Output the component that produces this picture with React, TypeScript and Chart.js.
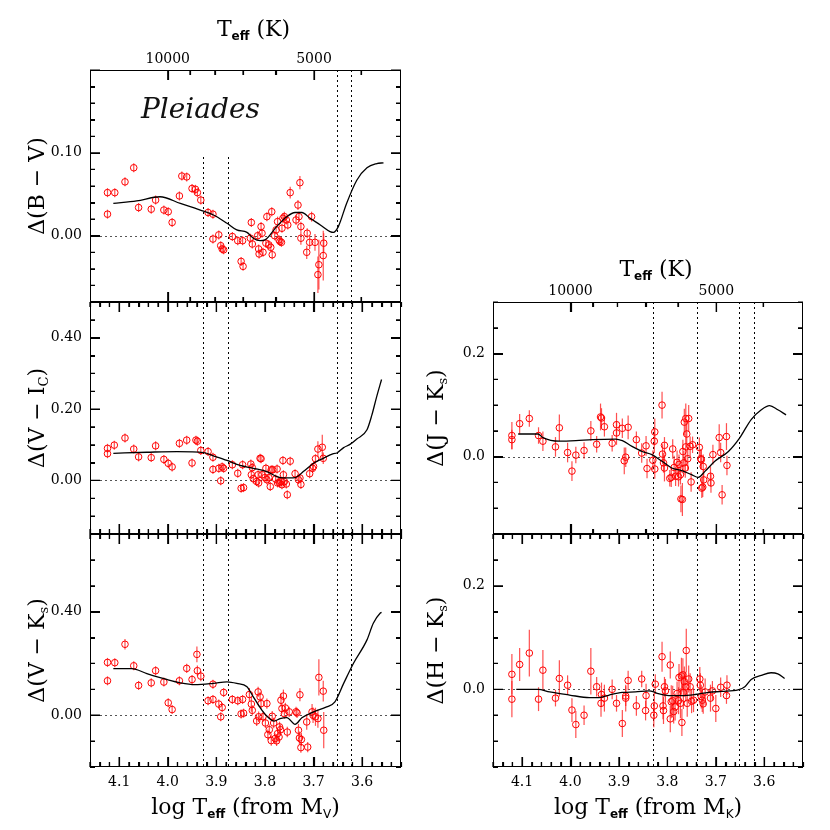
import React, { useEffect, useRef } from 'react';
import { Chart, registerables } from 'chart.js';
Chart.register(...registerables);

// ---------------- data ----------------
// Delta(B-V)
const bvCurveX = [4.112,4.064,4.016,3.974,3.933,3.906,3.878,3.858,3.837,3.824,3.810,3.800,3.776,3.755,3.738,3.724,3.707,3.686,3.666,3.659,3.649,3.632,3.611,3.590,3.570,3.556];
const bvCurveY = [0.039,0.042,0.047,0.039,0.031,0.025,0.015,0.007,0.004,-0.003,-0.006,-0.005,0.011,0.023,0.028,0.028,0.021,0.013,0.005,0.004,0.011,0.039,0.067,0.082,0.087,0.088];
const bvX = [4.124,4.124,4.109,4.088,4.070,4.060,4.034,4.025,4.008,3.999,
  3.991,3.976,3.971,3.961,3.950,3.943,3.939,3.932,3.917,3.907,
  3.907,3.895,3.891,3.888,3.885,3.867,3.856,3.849,3.845,3.846,
  3.828,3.830,3.826,3.815,3.813,3.812,3.808,3.806,3.804,3.798,
  3.796,3.792,3.788,3.786,3.785,3.780,3.777,3.774,3.771,3.769,
  3.766,3.765,3.763,3.760,3.756,3.753,3.748,3.736,3.732,3.730,
  3.728,3.726,3.726,3.714,3.713,3.708,3.704,3.697,3.691,3.689,
  3.680,3.679];
const bvY = [0.052,0.026,0.052,0.065,0.082,0.034,0.032,0.043,0.031,0.029,
  0.016,0.048,0.072,0.071,0.057,0.056,0.052,0.043,0.028,0.026,
  -0.004,0.001,-0.012,-0.016,-0.017,-0.001,-0.006,-0.031,-0.037,-0.006,
  0.016,-0.003,-0.010,0.000,-0.016,-0.022,0.011,0.003,-0.020,-0.009,
  0.023,-0.011,-0.014,0.029,-0.023,0.000,0.007,0.017,-0.005,-0.007,
  -0.008,0.009,0.021,0.023,0.019,0.013,0.052,0.019,0.037,0.023,
  0.064,0.011,-0.003,-0.020,0.003,-0.008,0.023,-0.008,-0.047,-0.035,
  -0.024,-0.009];
const bvErr = [0.003,0.003,0.003,0.003,0.003,0.003,0.003,0.003,0.003,0.003,
  0.003,0.004,0.004,0.003,0.003,0.004,0.004,0.003,0.003,0.003,
  0.003,0.003,0.003,0.003,0.003,0.003,0.003,0.003,0.003,0.003,
  0.004,0.004,0.004,0.004,0.004,0.004,0.004,0.004,0.004,0.004,
  0.004,0.004,0.005,0.005,0.004,0.005,0.005,0.006,0.005,0.005,
  0.005,0.005,0.006,0.006,0.005,0.005,0.007,0.006,0.006,0.006,
  0.008,0.006,0.008,0.008,0.006,0.008,0.006,0.010,0.022,0.030,
  0.030,0.012];

// Delta(V-Ic)
const viCurveX = [4.112,4.043,3.981,3.926,3.906,3.878,3.851,3.824,3.796,3.776,3.762,3.738,3.721,3.700,3.680,3.659,3.652,3.638,3.625,3.611,3.590,3.580,3.570,3.560];
const viCurveY = [0.076,0.079,0.081,0.078,0.069,0.056,0.042,0.034,0.025,0.011,0.007,0.008,0.025,0.048,0.062,0.075,0.077,0.092,0.101,0.116,0.142,0.183,0.235,0.283];
const viX = [4.124,4.124,4.110,4.088,4.070,4.060,4.034,4.025,4.008,3.999,
  3.991,3.976,3.961,3.950,3.942,3.939,3.932,3.917,3.907,3.907,
  3.895,3.891,3.888,3.885,3.867,3.856,3.849,3.844,3.846,3.829,
  3.828,3.826,3.824,3.817,3.814,3.813,3.810,3.808,3.806,3.800,
  3.798,3.796,3.792,3.789,3.787,3.784,3.778,3.775,3.774,3.770,
  3.767,3.765,3.763,3.762,3.760,3.756,3.754,3.748,3.738,3.731,
  3.728,3.726,3.708,3.702,3.700,3.696,3.691,3.682,3.680];
const viY = [0.090,0.075,0.099,0.119,0.088,0.066,0.064,0.097,0.059,0.048,
  0.038,0.104,0.113,0.049,0.113,0.110,0.084,0.081,0.065,0.031,
  0.034,-0.001,0.038,0.034,0.044,0.020,-0.022,-0.020,0.044,0.046,
  0.016,0.036,0.005,-0.003,0.016,-0.007,0.062,0.061,0.016,0.008,
  0.034,0.002,0.008,-0.017,0.030,0.030,0.004,0.032,-0.007,-0.007,
  -0.003,-0.012,0.056,0.016,-0.003,-0.010,-0.040,0.054,0.019,0.002,
  0.007,-0.011,0.019,0.034,0.039,0.061,0.088,0.093,0.062];
const viErr = [0.006,0.006,0.006,0.006,0.006,0.006,0.006,0.006,0.006,0.006,
  0.006,0.006,0.006,0.006,0.006,0.006,0.006,0.006,0.006,0.006,
  0.006,0.006,0.006,0.006,0.006,0.006,0.006,0.006,0.006,0.006,
  0.006,0.006,0.006,0.006,0.006,0.006,0.006,0.006,0.006,0.006,
  0.006,0.006,0.006,0.006,0.006,0.006,0.006,0.006,0.006,0.006,
  0.006,0.006,0.006,0.006,0.006,0.006,0.006,0.006,0.008,0.008,
  0.008,0.008,0.010,0.010,0.010,0.012,0.022,0.035,0.016];

// Delta(V-Ks)
const vkCurveX = [4.112,4.074,4.043,4.002,3.974,3.944,3.906,3.878,3.858,3.837,3.824,3.806,3.793,3.781,3.769,3.755,3.738,3.724,3.700,3.673,3.656,3.638,3.618,3.590,3.577,3.563,3.560];
const vkCurveY = [0.180,0.180,0.161,0.138,0.125,0.118,0.123,0.129,0.123,0.110,0.071,0.019,-0.009,-0.023,-0.013,-0.009,-0.035,-0.010,0.013,0.032,0.052,0.123,0.200,0.291,0.355,0.394,0.397];
const vkX = [4.124,4.124,4.109,4.088,4.070,4.060,4.034,4.025,4.008,3.999,
  3.991,3.976,3.961,3.950,3.940,3.939,3.932,3.917,3.907,3.907,
  3.895,3.891,3.888,3.885,3.867,3.856,3.849,3.844,3.846,3.832,
  3.828,3.826,3.817,3.814,3.813,3.810,3.808,3.804,3.799,3.796,
  3.794,3.791,3.787,3.785,3.782,3.779,3.776,3.774,3.771,3.770,
  3.768,3.767,3.765,3.762,3.760,3.758,3.754,3.750,3.736,3.734,
  3.731,3.729,3.728,3.726,3.725,3.714,3.712,3.703,3.701,3.696,
  3.691,3.689,3.680,3.679];
const vkY = [0.204,0.133,0.203,0.274,0.191,0.115,0.125,0.172,0.128,0.048,
  0.022,0.133,0.181,0.138,0.235,0.172,0.151,0.056,0.120,0.061,
  0.043,-0.006,0.030,0.088,0.061,0.056,0.005,0.008,0.061,0.080,
  0.043,0.019,-0.022,0.090,-0.006,0.071,0.045,-0.006,-0.030,0.045,
  -0.075,-0.056,-0.098,-0.004,-0.030,-0.090,-0.099,-0.071,-0.084,-0.045,
  -0.056,0.058,0.026,0.074,0.006,0.028,-0.065,0.013,0.013,0.009,
  -0.058,-0.088,0.079,-0.125,-0.094,-0.026,-0.123,0.013,0.000,-0.006,
  -0.013,0.146,0.093,-0.058];
const vkErr = [0.012,0.012,0.012,0.020,0.015,0.015,0.012,0.015,0.015,0.015,
  0.015,0.015,0.018,0.015,0.030,0.020,0.020,0.015,0.015,0.015,
  0.015,0.015,0.015,0.015,0.015,0.015,0.015,0.015,0.015,0.025,
  0.030,0.020,0.020,0.020,0.020,0.020,0.020,0.020,0.020,0.020,
  0.020,0.020,0.020,0.020,0.020,0.020,0.020,0.020,0.020,0.020,
  0.020,0.025,0.020,0.025,0.020,0.020,0.020,0.020,0.020,0.020,
  0.025,0.025,0.025,0.020,0.025,0.030,0.020,0.030,0.030,0.035,
  0.035,0.070,0.040,0.070];

// Delta(J-Ks)
const jkCurveX = [4.108,4.067,4.057,4.023,3.989,3.955,3.907,3.893,3.873,3.852,3.832,3.811,3.791,3.770,3.750,3.736,3.722,3.702,3.674,3.651,3.627,3.606,3.589,3.572,3.555];
const jkCurveY = [0.044,0.044,0.037,0.030,0.031,0.033,0.034,0.031,0.020,0.010,0.004,-0.009,-0.022,-0.027,-0.035,-0.040,-0.028,-0.009,0.010,0.036,0.072,0.091,0.099,0.091,0.081];
const jkX = [4.121,4.121,4.105,4.085,4.066,4.057,4.031,4.023,4.006,3.997,
  3.989,3.972,3.958,3.946,3.938,3.936,3.930,3.914,3.905,3.905,
  3.893,3.889,3.886,3.881,3.864,3.853,3.844,3.842,3.830,3.827,
  3.826,3.826,3.811,3.810,3.808,3.806,3.806,3.795,3.792,3.789,
  3.786,3.783,3.780,3.777,3.776,3.773,3.772,3.769,3.768,3.766,
  3.765,3.763,3.762,3.762,3.760,3.758,3.756,3.753,3.751,3.748,
  3.734,3.731,3.730,3.729,3.727,3.726,3.725,3.711,3.710,3.706,
  3.693,3.690,3.687,3.678,3.677];
const jkY = [0.041,0.033,0.064,0.074,0.041,0.030,0.019,0.056,0.008,-0.028,
  0.003,0.012,0.050,0.024,0.077,0.075,0.058,0.026,0.062,0.046,
  0.055,-0.008,-0.001,0.057,0.033,0.007,0.021,-0.023,-0.007,0.030,
  0.048,-0.024,0.100,0.005,-0.012,0.022,-0.022,-0.042,-0.040,0.015,
  -0.021,-0.038,-0.011,-0.039,-0.015,-0.035,-0.082,-0.083,0.010,-0.012,
  0.067,-0.022,0.019,0.074,0.044,-0.004,0.074,0.020,-0.049,0.023,
  0.018,-0.004,-0.006,-0.061,-0.059,-0.019,-0.045,-0.038,-0.051,0.004,
  0.037,0.008,-0.074,0.039,-0.017];
const jkErr = [0.026,0.019,0.019,0.016,0.016,0.019,0.019,0.026,0.019,0.019,
  0.016,0.016,0.019,0.016,0.026,0.019,0.019,0.016,0.023,0.023,
  0.019,0.026,0.019,0.023,0.016,0.019,0.019,0.019,0.019,0.023,
  0.026,0.019,0.026,0.019,0.019,0.016,0.026,0.016,0.019,0.019,
  0.023,0.019,0.023,0.019,0.019,0.019,0.026,0.032,0.023,0.023,
  0.026,0.019,0.026,0.029,0.026,0.023,0.026,0.019,0.019,0.016,
  0.019,0.019,0.019,0.019,0.019,0.023,0.019,0.019,0.019,0.019,
  0.026,0.019,0.019,0.026,0.019];

// Delta(H-Ks)
const hkCurveX = [4.112,4.067,4.043,4.002,3.961,3.941,3.920,3.893,3.866,3.838,3.828,3.821,3.797,3.770,3.743,3.715,3.688,3.654,3.640,3.627,3.606,3.586,3.572,3.558];
const hkCurveY = [0.000,0.000,-0.005,-0.011,-0.016,-0.016,-0.011,-0.006,-0.005,-0.003,-0.005,-0.008,-0.012,-0.012,-0.010,-0.006,-0.004,-0.001,0.005,0.019,0.027,0.032,0.030,0.021];
const hkX = [4.121,4.121,4.105,4.085,4.066,4.057,4.031,4.023,4.006,3.997,
  3.989,3.972,3.958,3.946,3.937,3.936,3.930,3.914,3.905,3.893,
  3.886,3.886,3.881,3.864,3.853,3.845,3.844,3.828,3.827,3.825,
  3.811,3.809,3.808,3.806,3.804,3.794,3.794,3.792,3.789,3.787,
  3.784,3.780,3.777,3.776,3.773,3.771,3.770,3.768,3.767,3.765,
  3.762,3.761,3.759,3.756,3.753,3.750,3.746,3.733,3.732,3.730,
  3.728,3.726,3.722,3.711,3.707,3.700,3.690,3.678,3.677];
const hkY = [0.029,-0.019,0.048,0.070,-0.019,0.037,-0.017,0.021,0.008,-0.040,
  -0.068,-0.050,0.035,0.005,-0.027,-0.010,-0.017,0.000,-0.027,-0.066,
  -0.017,-0.013,0.017,-0.032,0.020,-0.041,-0.012,-0.050,-0.032,0.010,
  0.063,-0.032,-0.041,0.005,-0.003,0.047,-0.057,-0.024,-0.022,-0.043,
  -0.034,-0.008,-0.022,0.023,-0.027,0.026,-0.064,0.028,-0.006,0.015,
  0.005,0.075,-0.027,0.020,0.005,-0.023,-0.021,0.020,0.008,-0.014,
  -0.021,-0.028,-0.005,-0.017,-0.003,-0.037,0.004,-0.012,0.008];
const hkErr = [0.039,0.035,0.032,0.045,0.023,0.039,0.016,0.035,0.019,0.023,
  0.026,0.019,0.045,0.019,0.026,0.023,0.026,0.019,0.016,0.026,
  0.026,0.019,0.019,0.019,0.016,0.019,0.023,0.023,0.026,0.019,
  0.029,0.026,0.026,0.019,0.023,0.026,0.026,0.032,0.029,0.023,
  0.026,0.023,0.026,0.026,0.029,0.035,0.026,0.032,0.032,0.029,
  0.029,0.042,0.026,0.026,0.026,0.023,0.023,0.023,0.023,0.023,
  0.023,0.019,0.026,0.026,0.019,0.026,0.019,0.016,0.019];

// axes
const teffTicks = [10000, 9000, 8000, 7000, 6000, 5000, 4000];
const teffLabels = [10000, 5000];
const logTickLabels = [4.1, 4.0, 3.9, 3.8, 3.7, 3.6];
const leftGuides = [3.928, 3.875, 3.652, 3.623];
const rightGuides = [3.830, 3.738, 3.652, 3.621];
const X_MIN = 3.52;
const X_MAX = 4.16;

// ---------------- styling helpers ----------------
const SERIF = '"DejaVu Serif", serif';
const MAIN = '22px ' + SERIF;
const SUB_SERIF = '13px ' + SERIF;
const SUB_EFF = 'bold 12px "DejaVu Sans", sans-serif';
const SUB_SANS = '12px "DejaVu Sans", sans-serif';
const TICK_FONT = '14px ' + SERIF;

type Part = { t: string; f: string; dy: number };
const txt = (t: string): Part => ({ t, f: MAIN, dy: 0 });
const sub = (t: string, f = SUB_SERIF): Part => ({ t, f, dy: 7 });

type Panel = {
  rect: number[];
  yMin: number; yMax: number; yStep: number; yMajor: number;
  yLabels: number[]; digits: number;
  yTitle: Part[]; yTitleX: number;
  curveX: number[]; curveY: number[];
  ptX: number[]; ptY: number[]; ptErr: number[];
  guides: number[]; guideStart: (number | null)[];
  topTeff: boolean; bottomTeff: boolean;
  topLabels: boolean; topTitleY?: number;
  bottomLabels: boolean; bottomTitle?: Part[];
  pleiades?: boolean;
};

const PANELS: Panel[] = [
  {
    rect: [90, 70, 401, 302], yMin: -0.08, yMax: 0.20, yStep: 0.02, yMajor: 0.1,
    yLabels: [0, 0.1], digits: 2, yTitle: [txt('Δ(B − V)')], yTitleX: 38,
    curveX: bvCurveX, curveY: bvCurveY, ptX: bvX, ptY: bvY, ptErr: bvErr,
    guides: leftGuides, guideStart: [0.095, 0.095, null, null],
    topTeff: true, bottomTeff: true, topLabels: true, topTitleY: 30, bottomLabels: false,
    pleiades: true,
  },
  {
    rect: [90, 302, 401, 534], yMin: -0.15, yMax: 0.50, yStep: 0.05, yMajor: 0.2,
    yLabels: [0, 0.2, 0.4], digits: 2, yTitle: [txt('Δ(V − I'), sub('C'), txt(')')], yTitleX: 38,
    curveX: viCurveX, curveY: viCurveY, ptX: viX, ptY: viY, ptErr: viErr,
    guides: leftGuides, guideStart: [null, null, null, null],
    topTeff: false, bottomTeff: false, topLabels: false, bottomLabels: false,
  },
  {
    rect: [90, 534, 401, 767], yMin: -0.20, yMax: 0.70, yStep: 0.1, yMajor: 0.4,
    yLabels: [0, 0.4], digits: 2, yTitle: [txt('Δ(V − K'), sub('s'), txt(')')], yTitleX: 38,
    curveX: vkCurveX, curveY: vkCurveY, ptX: vkX, ptY: vkY, ptErr: vkErr,
    guides: leftGuides, guideStart: [null, null, null, null],
    topTeff: false, bottomTeff: false, topLabels: false, bottomLabels: true,
    bottomTitle: [txt('log T'), sub('eff', SUB_EFF), txt(' (from M'), sub('V', SUB_SANS), txt(')')],
  },
  {
    rect: [493, 302, 803, 534], yMin: -0.15, yMax: 0.30, yStep: 0.05, yMajor: 0.2,
    yLabels: [0, 0.2], digits: 1, yTitle: [txt('Δ(J − K'), sub('s'), txt(')')], yTitleX: 437,
    curveX: jkCurveX, curveY: jkCurveY, ptX: jkX, ptY: jkY, ptErr: jkErr,
    guides: rightGuides, guideStart: [null, null, null, null],
    topTeff: true, bottomTeff: true, topLabels: true, topTitleY: 270, bottomLabels: false,
  },
  {
    rect: [493, 534, 803, 767], yMin: -0.15, yMax: 0.30, yStep: 0.05, yMajor: 0.2,
    yLabels: [0, 0.2], digits: 1, yTitle: [txt('Δ(H − K'), sub('s'), txt(')')], yTitleX: 437,
    curveX: hkCurveX, curveY: hkCurveY, ptX: hkX, ptY: hkY, ptErr: hkErr,
    guides: rightGuides, guideStart: [null, null, null, null],
    topTeff: false, bottomTeff: false, topLabels: false, bottomLabels: true,
    bottomTitle: [txt('log T'), sub('eff', SUB_EFF), txt(' (from M'), sub('K', SUB_SANS), txt(')')],
  },
];

// list of [value, lengthPx] for a horizontal axis
function xTickList(teff: boolean): number[][] {
  const out: number[][] = [];
  if (teff) {
    for (let i = 0; i < teffTicks.length; i++) {
      out.push([Math.log10(teffTicks[i]), teffLabels.indexOf(teffTicks[i]) >= 0 ? 10 : 5]);
    }
  } else {
    for (let k = 176; k <= 208; k++) out.push([k / 50, k % 5 === 0 ? 10 : 5]);
  }
  return out;
}
function yTickList(p: Panel): number[][] {
  const out: number[][] = [];
  const kMin = Math.ceil(p.yMin / p.yStep - 1e-6);
  const kMax = Math.floor(p.yMax / p.yStep + 1e-6);
  for (let k = kMin; k <= kMax; k++) {
    const v = k * p.yStep;
    const r = v / p.yMajor;
    out.push([v, Math.abs(r - Math.round(r)) < 1e-6 ? 10 : 5]);
  }
  return out;
}

// tick marks as a line dataset (segments separated by gaps), in data units
function tickData(p: Panel) {
  const x0 = p.rect[0], y0 = p.rect[1], x1 = p.rect[2], y1 = p.rect[3];
  const pxPerX = (x1 - x0) / (X_MAX - X_MIN);
  const pxPerY = (y1 - y0) / (p.yMax - p.yMin);
  const out: any[] = [];
  const seg = (ax: number, ay: number, bx: number, by: number) => {
    out.push({ x: ax, y: ay }, { x: bx, y: by }, { x: bx, y: null });
  };
  xTickList(p.topTeff).forEach((t) => seg(t[0], p.yMax, t[0], p.yMax - t[1] / pxPerY));
  xTickList(p.bottomTeff).forEach((t) => seg(t[0], p.yMin, t[0], p.yMin + t[1] / pxPerY));
  yTickList(p).forEach((t) => {
    seg(X_MAX, t[0], X_MAX - t[1] / pxPerX, t[0]);
    seg(X_MIN, t[0], X_MIN + t[1] / pxPerX, t[0]);
  });
  return out;
}

function drawRich(ctx: CanvasRenderingContext2D, parts: Part[], cx: number, cy: number, rotate: boolean) {
  ctx.save();
  ctx.translate(cx, cy);
  if (rotate) ctx.rotate(-Math.PI / 2);
  const widths = parts.map((q) => { ctx.font = q.f; return ctx.measureText(q.t).width; });
  const total = widths.reduce((a, b) => a + b, 0);
  let x = -total / 2;
  ctx.textAlign = 'left';
  ctx.textBaseline = 'middle';
  ctx.fillStyle = '#000';
  parts.forEach((q, i) => { ctx.font = q.f; ctx.fillText(q.t, x, q.dy); x += widths[i]; });
  ctx.restore();
}

function drawFrameTicks(ctx: CanvasRenderingContext2D, xs: any, ys: any, p: Panel) {
  const x0 = p.rect[0], y0 = p.rect[1], x1 = p.rect[2], y1 = p.rect[3];
  ctx.save();
  ctx.setLineDash([]);
  ctx.fillStyle = '#000';
  ctx.fillRect(x0, y0, x1 - x0, 1);
  ctx.fillRect(x0, y1 - 1, x1 - x0, 1);
  ctx.fillRect(x0, y0, 1, y1 - y0);
  ctx.fillRect(x1 - 1, y0, 1, y1 - y0);
  ctx.strokeStyle = '#000000';
  ctx.lineWidth = 1.2;
  ctx.beginPath();
  xTickList(p.topTeff).forEach((t) => {
    const px = Math.round(xs.getPixelForValue(t[0])) + 0.5;
    ctx.moveTo(px, y0); ctx.lineTo(px, y0 + t[1]);
  });
  xTickList(p.bottomTeff).forEach((t) => {
    const px = Math.round(xs.getPixelForValue(t[0])) + 0.5;
    ctx.moveTo(px, y1); ctx.lineTo(px, y1 - t[1]);
  });
  yTickList(p).forEach((t) => {
    const py = Math.round(ys.getPixelForValue(t[0])) + 0.5;
    ctx.moveTo(x0, py); ctx.lineTo(x0 + t[1], py);
    ctx.moveTo(x1, py); ctx.lineTo(x1 - t[1], py);
  });
  ctx.stroke();
  ctx.restore();
}

function drawTexts(ctx: CanvasRenderingContext2D, xs: any, ys: any, p: Panel) {
  const x0 = p.rect[0], y0 = p.rect[1], x1 = p.rect[2], y1 = p.rect[3];
  ctx.save();
  ctx.fillStyle = '#000';
  ctx.font = TICK_FONT;
  ctx.textBaseline = 'middle';
  ctx.textAlign = 'right';
  p.yLabels.forEach((v) => ctx.fillText(v.toFixed(p.digits), x0 - 8, ys.getPixelForValue(v)));
  ctx.textAlign = 'center';
  if (p.bottomLabels) {
    logTickLabels.forEach((v) => ctx.fillText(v.toFixed(1), xs.getPixelForValue(v), y1 + 15));
    if (p.bottomTitle) drawRich(ctx, p.bottomTitle, (x0 + x1) / 2, y1 + 41, false);
  }
  if (p.topLabels) {
    ctx.font = TICK_FONT;
    ctx.textAlign = 'center';
    teffLabels.forEach((T) => ctx.fillText(String(T), xs.getPixelForValue(Math.log10(T)), y0 - 11));
    drawRich(ctx, [txt('T'), sub('eff', SUB_EFF), txt(' (K)')], (x0 + x1) / 2 + 8, p.topTitleY || y0 - 40, false);
  }
  drawRich(ctx, p.yTitle, p.yTitleX, (y0 + y1) / 2, true);
  if (p.pleiades) {
    ctx.font = 'italic 28px ' + SERIF;
    ctx.textAlign = 'left';
    ctx.textBaseline = 'middle';
    ctx.fillStyle = '#111';
    ctx.fillText('Pleiades', 141, 111);
  }
  ctx.restore();
}

function makePlugin(p: Panel) {
  return {
    id: 'figure',
    beforeDatasetsDraw(chart: any) {
      const ctx: CanvasRenderingContext2D = chart.ctx;
      const xs = chart.scales.x, ys = chart.scales.y;
      const a = chart.chartArea;
      ctx.save();
      ctx.beginPath();
      ctx.rect(a.left, a.top, a.right - a.left, a.bottom - a.top);
      ctx.clip();
      ctx.strokeStyle = '#555';
      ctx.lineWidth = 1;
      ctx.setLineDash([2, 3]);
      const yz = Math.round(ys.getPixelForValue(0)) + 0.5;
      ctx.beginPath(); ctx.moveTo(a.left, yz); ctx.lineTo(a.right, yz); ctx.stroke();
      ctx.strokeStyle = '#000';
      p.guides.forEach((g, i) => {
        const gx = Math.round(xs.getPixelForValue(g)) + 0.5;
        const st = p.guideStart[i];
        const top = st == null ? a.top : ys.getPixelForValue(st);
        ctx.beginPath(); ctx.moveTo(gx, top); ctx.lineTo(gx, a.bottom); ctx.stroke();
      });
      ctx.setLineDash([]);
      ctx.strokeStyle = 'rgba(255,20,20,0.75)';
      ctx.lineWidth = 1.2;
      p.ptX.forEach((xv, i) => {
        const px = xs.getPixelForValue(xv);
        const py = ys.getPixelForValue(p.ptY[i]);
        let t = ys.getPixelForValue(p.ptY[i] + p.ptErr[i]);
        let b = ys.getPixelForValue(p.ptY[i] - p.ptErr[i]);
        t = Math.min(t, py - 4.5); b = Math.max(b, py + 4.5);
        ctx.beginPath(); ctx.moveTo(px, t); ctx.lineTo(px, b); ctx.stroke();
      });
      ctx.restore();
    },
    afterDraw(chart: any) {
      drawFrameTicks(chart.ctx, chart.scales.x, chart.scales.y, p);
      drawTexts(chart.ctx, chart.scales.x, chart.scales.y, p);
    },
  };
}

function makeChart(canvas: HTMLCanvasElement, p: Panel) {
  const x0 = p.rect[0], y0 = p.rect[1], x1 = p.rect[2], y1 = p.rect[3];
  return new Chart(canvas, {
    type: 'scatter',
    data: {
      datasets: [
        {
          data: tickData(p),
          showLine: true,
          spanGaps: false,
          borderColor: '#000',
          borderWidth: 1.2,
          pointRadius: 0,
          fill: false,
          tension: 0,
          clip: false,
        } as any,
        {
          data: p.curveX.map((x, i) => ({ x, y: p.curveY[i] })),
          showLine: true,
          borderColor: '#000',
          borderWidth: 1.3,
          pointRadius: 0,
          fill: false,
          cubicInterpolationMode: 'monotone',
        } as any,
        {
          data: p.ptX.map((x, i) => ({ x, y: p.ptY[i] })),
          pointRadius: 3.3,
          pointBorderWidth: 1,
          borderColor: '#ff0000',
          backgroundColor: 'rgba(0,0,0,0)',
          pointBorderColor: '#ff0000',
          pointBackgroundColor: 'rgba(0,0,0,0)',
        } as any,
      ],
    },
    options: {
      responsive: false,
      animation: false,
      devicePixelRatio: 1,
      events: [],
      layout: { padding: { left: x0, top: y0, right: 830 - x1, bottom: 830 - y1 } },
      scales: {
        x: { type: 'linear', min: X_MIN, max: X_MAX, reverse: true, display: false },
        y: { type: 'linear', min: p.yMin, max: p.yMax, display: false },
      },
      plugins: { legend: { display: false }, tooltip: { enabled: false } },
    } as any,
    plugins: [makePlugin(p) as any],
  });
}

export default function App() {
  const refs = useRef<(HTMLCanvasElement | null)[]>([]);
  useEffect(() => {
    const charts = PANELS.map((p, i) => makeChart(refs.current[i] as HTMLCanvasElement, p));
    return () => charts.forEach((c) => c.destroy());
  }, []);
  return (
    <div style={{ position: 'absolute', left: 0, top: 0, width: 830, height: 830, background: '#fff' }}>
      {PANELS.map((_, i) => (
        <canvas
          key={i}
          ref={(el) => { refs.current[i] = el; }}
          width={830}
          height={830}
          style={{ position: 'absolute', left: 0, top: 0, width: 830, height: 830 }}
        />
      ))}
    </div>
  );
}
